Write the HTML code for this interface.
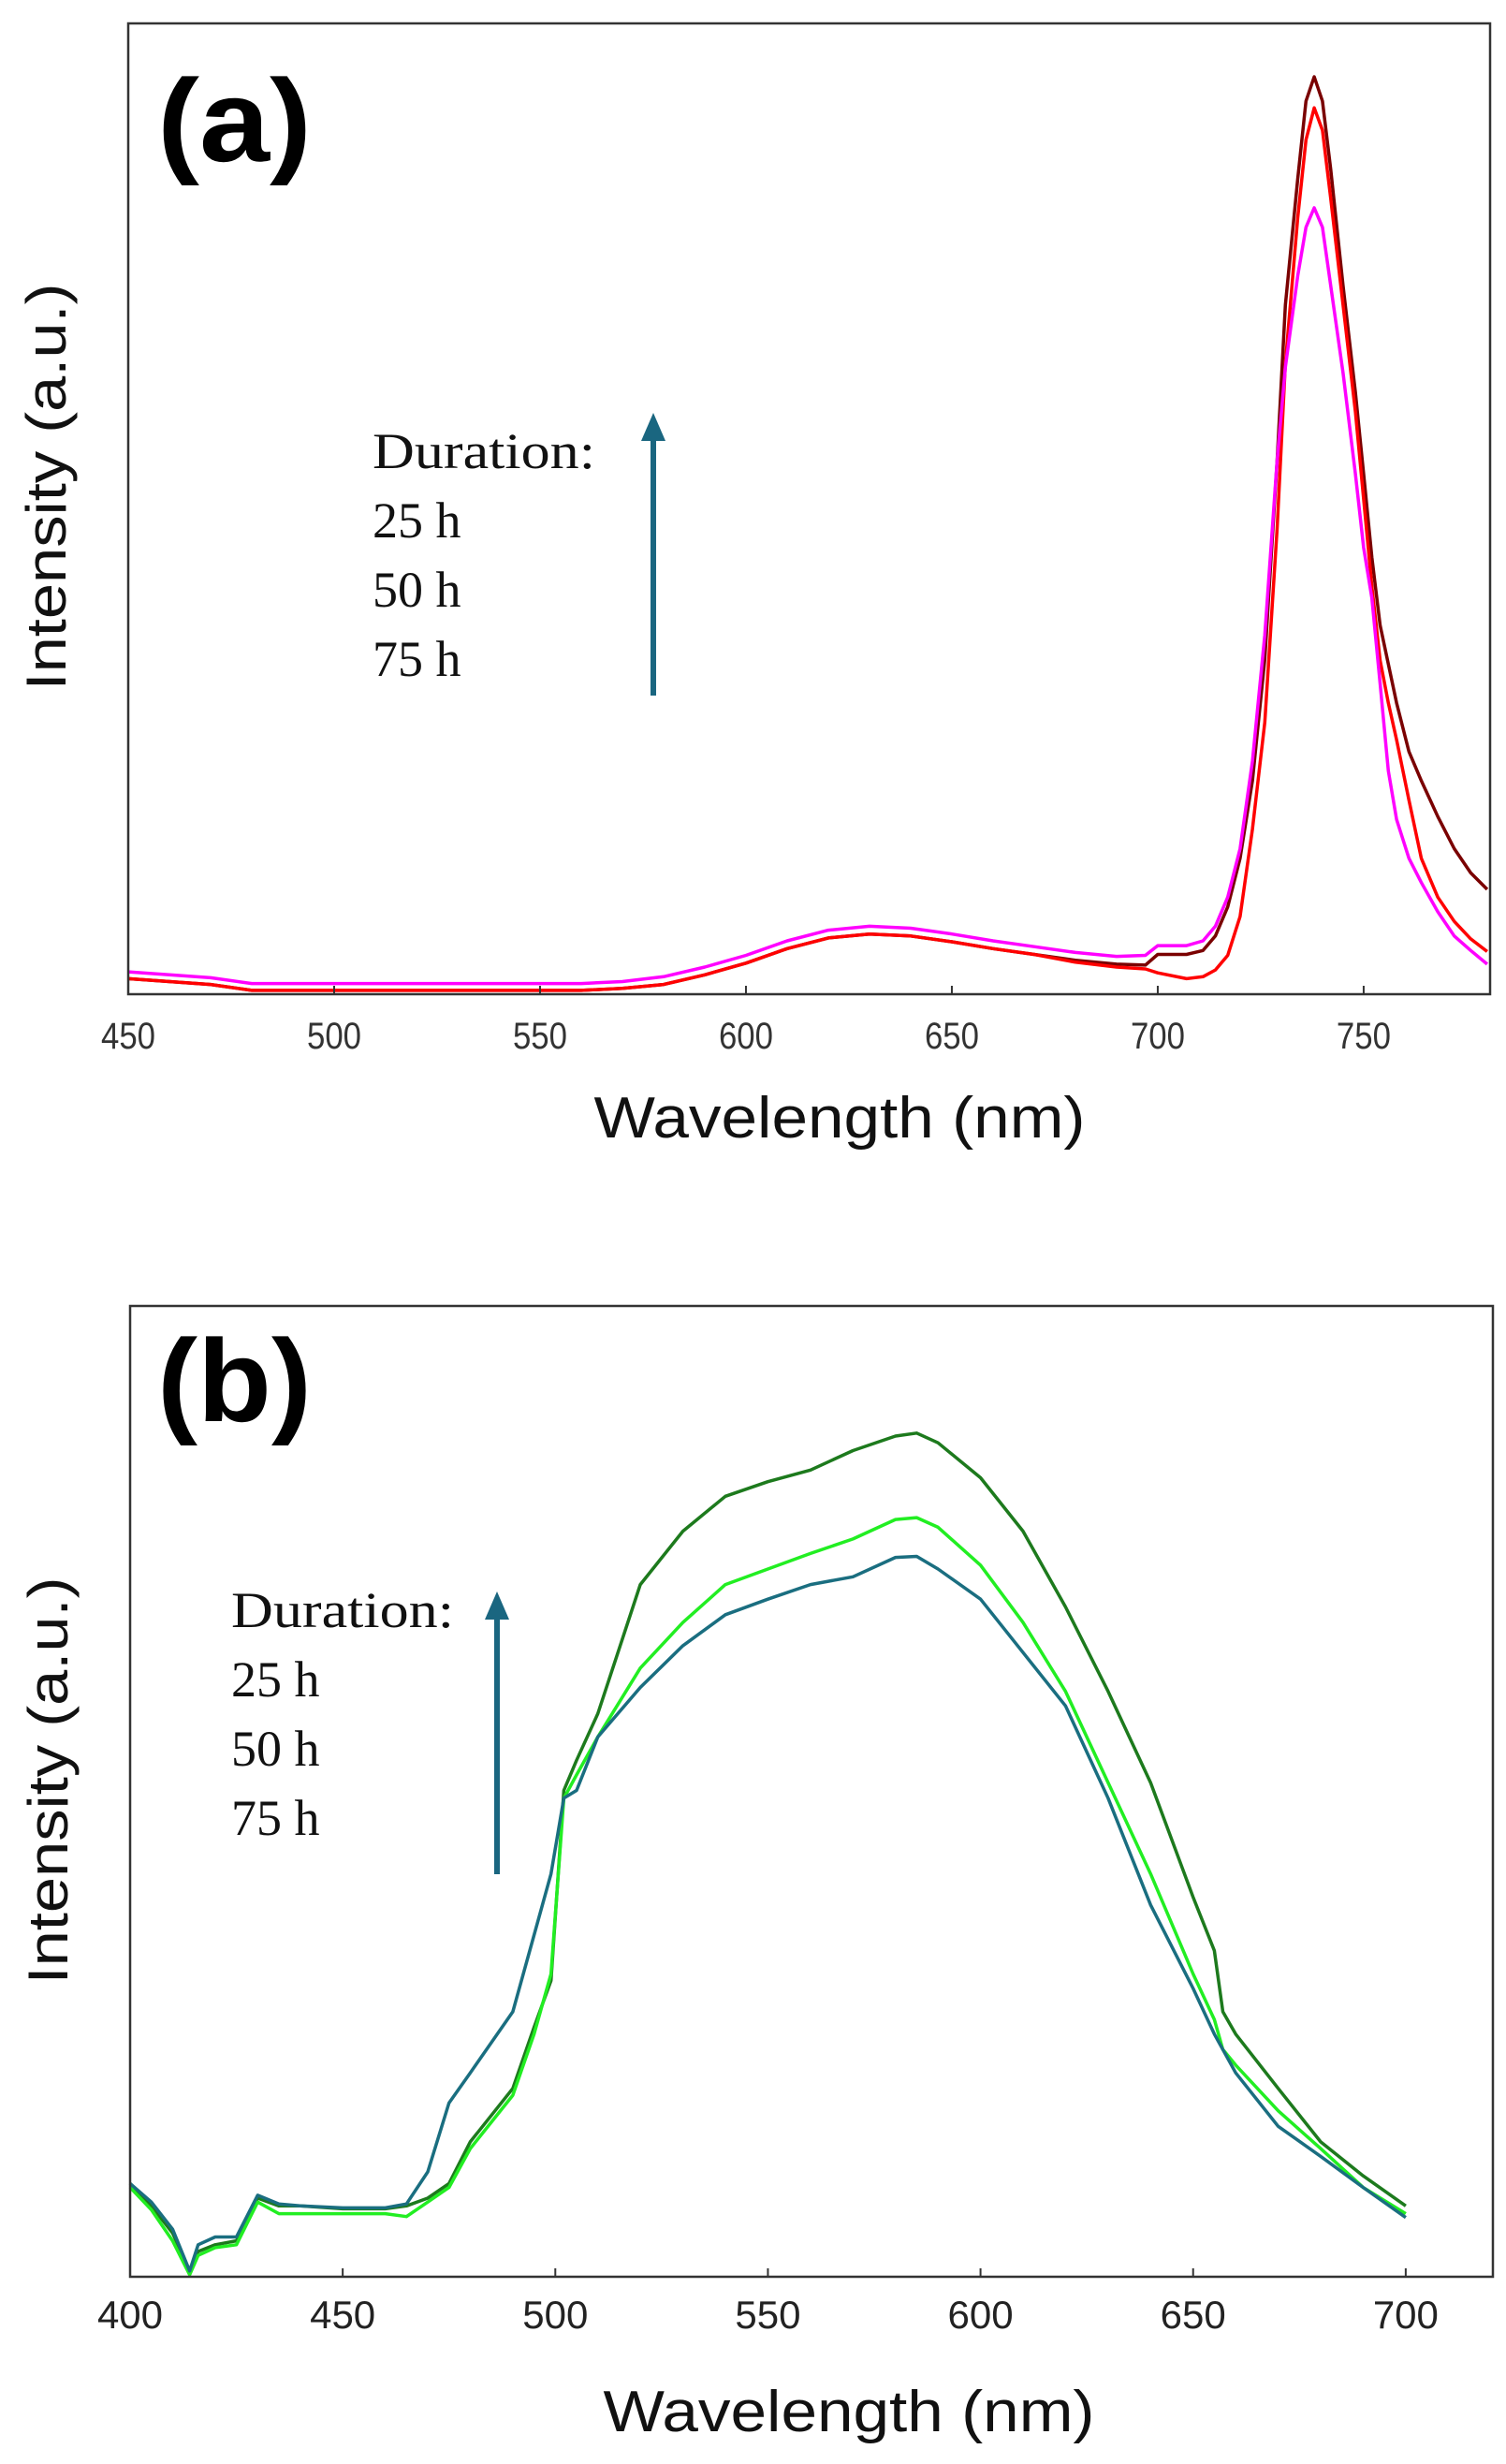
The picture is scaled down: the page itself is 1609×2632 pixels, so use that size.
<!DOCTYPE html>
<html><head><meta charset="utf-8"><style>
html,body{margin:0;padding:0;background:#fff;}
svg{display:block;}
</style></head><body>
<svg id="fig" width="1609" height="2632" viewBox="0 0 1609 2632" xmlns="http://www.w3.org/2000/svg">
<rect x="0" y="0" width="1609" height="2632" fill="#fff"/>
<g id="panelA"></g>
<g id="panelB"></g>
</svg>
<script>
// ---------- Panel (a) data ----------
const nmA = [450,470,480,500,560,570,580,590,600,610,620,630,640,650,660,670,680,690,697,700,707,711,714,717,720,723,726,729,731,734,736,738,740,742,745,748,750,752,754,756,758,761,764,768,772,776,780];
const a75 = [.016,.010,.004,.004,.004,.006,.010,.020,.032,.047,.058,.062,.060,.054,.047,.041,.035,.031,.030,.041,.041,.045,.060,.090,.140,.220,.345,.550,.710,.840,.920,.945,.920,.850,.730,.620,.536,.450,.380,.340,.300,.250,.220,.183,.150,.125,.108];
const a50 = [.016,.010,.004,.004,.004,.006,.010,.020,.032,.047,.058,.062,.060,.054,.047,.041,.033,.028,.026,.022,.016,.018,.025,.040,.080,.170,.280,.480,.650,.800,.880,.913,.890,.820,.710,.600,.510,.420,.344,.300,.262,.200,.140,.100,.075,.057,.044];
const a25 = [.023,.017,.011,.011,.011,.013,.018,.028,.040,.055,.066,.070,.068,.062,.055,.049,.043,.039,.040,.050,.050,.055,.070,.100,.150,.240,.370,.550,.646,.740,.790,.810,.790,.730,.640,.536,.460,.408,.320,.230,.180,.140,.115,.085,.060,.045,.031];
const ticksA = [450,500,550,600,650,700,750];
const tickLabelsA = ["450","500","550","600","650","700","750"];
// ---------- Panel (b) data ----------
const nmB = [400,405,410,414,416,420,425,430,435,440,450,460,465,470,475,480,490,495,499,502,505,510,520,530,540,550,560,570,580,585,590,600,610,620,630,640,650,655,657,660,670,680,690,700];
const b75 = [.096,.073,.045,.006,.026,.033,.037,.081,.073,.073,.070,.070,.073,.081,.096,.139,.194,.257,.305,.501,.532,.580,.713,.768,.804,.819,.831,.851,.866,.869,.859,.823,.768,.690,.603,.509,.391,.336,.273,.250,.194,.139,.104,.073];
const b50 = [.092,.069,.037,.002,.022,.030,.033,.077,.065,.065,.065,.065,.062,.077,.092,.132,.187,.250,.312,.493,.517,.556,.627,.674,.713,.729,.745,.760,.780,.782,.772,.733,.674,.603,.509,.415,.312,.265,.234,.218,.171,.132,.092,.065];
const b25 = [.096,.077,.049,.006,.033,.041,.041,.084,.075,.073,.071,.071,.075,.108,.179,.210,.273,.352,.415,.493,.501,.556,.607,.650,.682,.698,.713,.721,.741,.742,.729,.698,.643,.588,.493,.383,.297,.250,.234,.210,.155,.124,.092,.061];
const ticksB = [400,450,500,550,600,650,700];
const tickLabelsB = ["400","450","500","550","600","650","700"];
const legendLines = ["Duration:","25 h","50 h","75 h"];

const NS = "http://www.w3.org/2000/svg";
function mk(parent, tag, attrs, text){
  const e = document.createElementNS(NS, tag);
  for (const k in attrs) e.setAttribute(k, attrs[k]);
  if (text !== undefined) e.textContent = text;
  parent.appendChild(e);
  return e;
}

function panel(g, cfg){
  const {L,T,R,B,x0,x1} = cfg;
  const xs = v => L + (v - x0) / (x1 - x0) * (R - L);
  const ys = v => B - v * (B - T);
  // series
  cfg.series.forEach(s => {
    let d = "";
    cfg.nm.forEach((n,i) => { d += (i ? "L" : "M") + xs(n).toFixed(1) + "," + ys(s.vals[i]).toFixed(1); });
    const p = mk(g, "path", {d, fill:"none", stroke:s.color, "stroke-width":s.w, "stroke-linejoin":"round"});
    
    
  });
  // frame
  const f = mk(g, "rect", {x:L, y:T, width:R-L, height:B-T, fill:"none", stroke:"#333", "stroke-width":2.5});
  
  
  // ticks
  cfg.ticks.forEach((t,i) => {
    const x = xs(t);
    const tk = mk(g, "line", {x1:x, x2:x, y1:B, y2:B-9, stroke:"#333", "stroke-width":2});
    
    
    const lb = mk(g, "text", Object.assign({x:x, y:cfg.tickY, "text-anchor":"middle"}, cfg.tickStyle), cfg.tickLabels[i]);
    
    
  });
}

const gA = document.getElementById("panelA");
panel(gA, {L:137,T:25,R:1592,B:1062,x0:450,x1:780.7,nm:nmA,
  series:[{vals:a75,color:"#7a0000",w:3.5,name:"series-75h"},{vals:a50,color:"#ff0000",w:3.5,name:"series-50h"},{vals:a25,color:"#ff00ff",w:3.5,name:"series-25h"}],
  ticks:ticksA, tickLabels:tickLabelsA, tickY:1120,
  tickStyle:{"font-family":"Liberation Sans, sans-serif","font-size":40,fill:"#333",textLength:58,lengthAdjust:"spacingAndGlyphs"}});

const gB = document.getElementById("panelB");
panel(gB, {L:139,T:1395,R:1595,B:2432,x0:400,x1:720.5,nm:nmB,
  series:[{vals:b75,color:"#1d7a1d",w:3.5,name:"series-75h"},{vals:b50,color:"#22ee22",w:3.5,name:"series-50h"},{vals:b25,color:"#1a6e80",w:3.5,name:"series-25h"}],
  ticks:ticksB, tickLabels:tickLabelsB, tickY:2487,
  tickStyle:{"font-family":"Liberation Sans, sans-serif","font-size":42,fill:"#222"}});

function decorate(g, o){
  const t = mk(g, "text", {x:o.lx, y:o.ly, "font-family":"Liberation Sans, sans-serif","font-weight":"bold","font-size":125, fill:"#000", textLength:165, lengthAdjust:"spacingAndGlyphs"}, o.letter);
  
  
  const xl = mk(g, "text", {x:o.xtx, y:o.xty, "text-anchor":"middle","font-family":"Liberation Sans, sans-serif","font-size":62, fill:"#111", textLength:525, lengthAdjust:"spacingAndGlyphs"}, "Wavelength (nm)");
  
  
  const yl = mk(g, "text", {x:0, y:0, "text-anchor":"middle","font-family":"Liberation Sans, sans-serif","font-size":60, fill:"#111", textLength:435, lengthAdjust:"spacingAndGlyphs", transform:"translate("+o.ytx+","+o.yty+") rotate(-90)"}, "Intensity (a.u.)");
  
  
  legendLines.forEach((s,i) => {
    const lt = mk(g, "text", Object.assign({x:o.legX, y:o.legY + i*o.legDy, "font-family":"Liberation Serif, serif","font-size":54, fill:"#111"}, i===0 ? {textLength:o.legW, lengthAdjust:"spacingAndGlyphs"} : {}), s);
    
    
  });
  const ar = mk(g, "line", {x1:o.arX, x2:o.arX, y1:o.arB, y2:o.arT+26, stroke:"#1a6680", "stroke-width":6});
  
  
  const ah = mk(g, "polygon", {points:(o.arX-13)+","+(o.arT+30)+" "+(o.arX+13)+","+(o.arT+30)+" "+o.arX+","+o.arT, fill:"#1a6680"});
  
  
}
decorate(gA, {letter:"(a)", lx:168, ly:172, xtx:897, xty:1215, ytx:70, yty:520,
  legX:398, legY:500, legDy:74, legW:238, arX:698, arT:441, arB:743});
decorate(gB, {letter:"(b)", lx:168, ly:1518, xtx:907, xty:2597, ytx:72, yty:1902,
  legX:247, legY:1738, legDy:74, legW:238, arX:531, arT:1700, arB:2002});
</script>
</body></html>
